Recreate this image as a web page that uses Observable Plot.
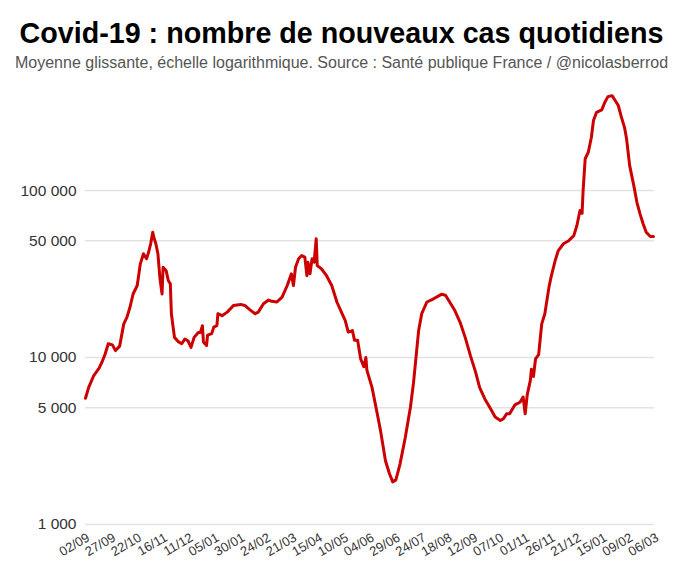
<!DOCTYPE html>
<html><head><meta charset="utf-8">
<script src="https://cdn.jsdelivr.net/npm/d3@7"></script>
<script src="https://cdn.jsdelivr.net/npm/@observablehq/plot@0.6"></script>
<style>
body{margin:0;background:#fff;font-family:"Liberation Sans",Arial,sans-serif;}
#title{position:absolute;top:16px;left:0;width:683px;text-align:center;font-weight:bold;font-size:28.7px;line-height:34px;color:#000;}
#sub{position:absolute;top:53px;left:0;width:683px;text-align:center;font-size:16px;line-height:19px;color:#555;}
#chart{position:absolute;top:80px;left:0;}
</style></head>
<body>
<div id="title">Covid-19 : nombre de nouveaux cas quotidiens</div>
<div id="sub">Moyenne glissante, échelle logarithmique. Source : Santé publique France / @nicolasberrod</div>
<div id="chart"></div>
<script>
const dates = [
"2020-09-02","2020-09-05","2020-09-10","2020-09-15","2020-09-18","2020-09-21","2020-09-24","2020-09-28",
"2020-10-01","2020-10-05","2020-10-09","2020-10-12","2020-10-15","2020-10-18","2020-10-22","2020-10-25",
"2020-10-28","2020-10-31","2020-11-02","2020-11-04","2020-11-06","2020-11-07","2020-11-09","2020-11-11",
"2020-11-13","2020-11-15","2020-11-16","2020-11-19","2020-11-21","2020-11-23","2020-11-24","2020-11-27",
"2020-12-01","2020-12-04","2020-12-07","2020-12-10","2020-12-13","2020-12-16","2020-12-20","2020-12-22",
"2020-12-24","2020-12-25","2020-12-28","2020-12-29","2021-01-02","2021-01-04","2021-01-07","2021-01-08",
"2021-01-12","2021-01-17","2021-01-23","2021-01-30","2021-02-03","2021-02-08","2021-02-13","2021-02-16",
"2021-02-21","2021-02-26","2021-03-01","2021-03-06","2021-03-11","2021-03-16","2021-03-20","2021-03-22",
"2021-03-24","2021-03-27","2021-03-30","2021-04-02","2021-04-04","2021-04-05","2021-04-07","2021-04-09",
"2021-04-11","2021-04-13","2021-04-14","2021-04-18","2021-04-23","2021-04-28","2021-05-03","2021-05-08",
"2021-05-11","2021-05-14","2021-05-18","2021-05-20","2021-05-23","2021-05-26","2021-05-29","2021-05-31",
"2021-06-01","2021-06-06","2021-06-11","2021-06-14","2021-06-19","2021-06-23","2021-06-26","2021-06-29",
"2021-07-03","2021-07-08","2021-07-13","2021-07-16","2021-07-21","2021-07-24","2021-07-29","2021-08-04",
"2021-08-12","2021-08-16","2021-08-20","2021-08-25","2021-08-30","2021-09-04","2021-09-09","2021-09-14",
"2021-09-18","2021-09-23","2021-09-28","2021-10-03","2021-10-08","2021-10-11","2021-10-14","2021-10-17",
"2021-10-22","2021-10-27","2021-10-30","2021-11-01","2021-11-03","2021-11-06","2021-11-07","2021-11-09",
"2021-11-11","2021-11-14","2021-11-17","2021-11-20","2021-11-24","2021-11-26","2021-11-30","2021-12-03",
"2021-12-08","2021-12-13","2021-12-18","2021-12-21","2021-12-24","2021-12-26","2021-12-27","2021-12-29",
"2022-01-01","2022-01-04","2022-01-06","2022-01-09","2022-01-14","2022-01-17","2022-01-20","2022-01-24",
"2022-01-27","2022-01-30","2022-02-02","2022-02-05","2022-02-07","2022-02-10","2022-02-14","2022-02-17",
"2022-02-20","2022-02-23","2022-02-26","2022-03-02","2022-03-05"
];
const cases = [
5700,6600,7800,8600,9400,10500,12100,11900,
11000,11700,15900,17400,20000,24000,27000,36400,
41800,39000,42700,48000,56300,52500,48000,41800,
29600,24000,34700,33100,28900,27600,18300,13200,
12400,12100,12900,12600,11500,13200,14100,14100,
15500,12400,11800,13600,13900,15200,15500,18300,
17800,18700,20500,20800,20500,19300,18300,18700,
21000,22100,21700,21500,23000,27000,31700,27000,
34700,39000,40800,39900,30900,37200,31700,39000,
37200,51400,35500,34000,30900,27000,21500,18300,
16700,14200,14500,12700,12700,9800,8800,10000,
8400,6600,4600,3700,2400,2000,1800,1850,
2300,3300,5000,7000,14500,18300,21500,22400,
23900,23600,21500,19100,16300,13200,10300,8200,
6600,5650,5000,4400,4200,4300,4600,4600,
5200,5400,5800,4600,6000,7300,8500,7700,
9800,10400,15900,18300,26400,30300,38100,43700,
48000,50000,53700,61700,75900,73000,100000,155000,
169500,208500,262500,294000,304000,338000,365000,370000,
346000,323000,275000,239000,204000,141000,107000,85000,
72500,63200,56300,53000,53000
];
const xTickDates = [
"2020-09-02","2020-09-27","2020-10-22","2020-11-16","2020-12-11","2021-01-05","2021-01-30","2021-02-24",
"2021-03-21","2021-04-15","2021-05-10","2021-06-04","2021-06-29","2021-07-24","2021-08-18","2021-09-12",
"2021-10-07","2021-11-01","2021-11-26","2021-12-21","2022-01-15","2022-02-09","2022-03-06"
];
const yTicks = [1000, 5000, 10000, 50000, 100000];

const data = dates.map((d, i) => ({date: new Date(d), value: cases[i]}));
const xt = xTickDates.map(d => new Date(d));
const fmtY = v => d3.format(",")(v).replace(/,/g, " ");
const fmtX = d3.utcFormat("%d/%m");
const font = '"Liberation Sans", Arial, sans-serif';

const chart = Plot.plot({
  width: 683,
  height: 486,
  marginTop: 9.5,
  marginBottom: 42,
  marginLeft: 85,
  marginRight: 29,
  style: {fontFamily: font, background: "#fff", color: "#333"},
  x: {type: "utc", domain: [new Date("2020-09-02"), new Date("2022-03-06")]},
  y: {type: "log", domain: [1000, 400000]},
  marks: [
    Plot.ruleY(yTicks, {stroke: "#e2e2e2", strokeWidth: 1.5}),
    Plot.axisY(yTicks, {tickFormat: fmtY, tickSize: 0, tickPadding: 9, fontSize: 15.5, label: null, fill: "#333"}),
    Plot.axisX(xt, {tickFormat: fmtX, tickSize: 0, tickPadding: 12, dx: 3, tickRotate: -30, fontSize: 13, label: null, fill: "#333"}),
    Plot.lineY(data, {x: "date", y: "value", stroke: "#cc0000", strokeWidth: 3, strokeLinejoin: "round"})
  ]
});
document.getElementById("chart").appendChild(chart);
</script>
</body></html>
